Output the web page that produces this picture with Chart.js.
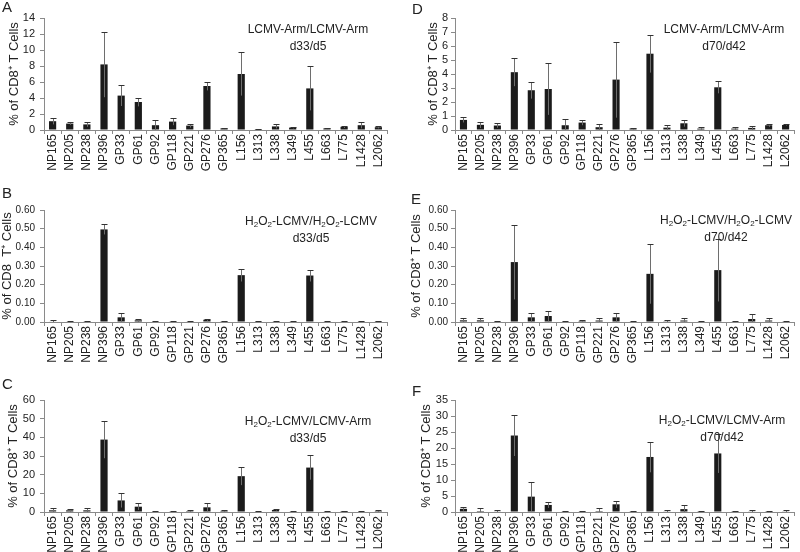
<!DOCTYPE html>
<html>
<head>
<meta charset="utf-8">
<script src="https://cdn.jsdelivr.net/npm/chart.js@4.4.0/dist/chart.umd.min.js"></script>
<style>
body{margin:0;width:800px;height:552px;overflow:hidden;background:#fff;position:relative;font-family:"Liberation Sans",Arial,sans-serif;color:#222}
.box{position:absolute;width:400px;height:172px}
.lab{position:absolute;font-size:15px;line-height:15px}
.note{position:absolute;width:220px;margin-left:-110px;text-align:center;font-size:12px;line-height:17px}
sub{font-size:8px;vertical-align:-2px;line-height:0}
</style>
</head>
<body>
<div class="box" style="left:0;top:0"><canvas id="cA"></canvas></div>
<div class="box" style="left:400px;top:0"><canvas id="cD"></canvas></div>
<div class="box" style="left:0;top:192px"><canvas id="cB"></canvas></div>
<div class="box" style="left:400px;top:192px"><canvas id="cE"></canvas></div>
<div class="box" style="left:0;top:382px"><canvas id="cC"></canvas></div>
<div class="box" style="left:400px;top:382px"><canvas id="cF"></canvas></div>

<div class="lab" style="left:2px;top:-1px">A</div>
<div class="lab" style="left:412px;top:1px">D</div>
<div class="lab" style="left:2px;top:185px">B</div>
<div class="lab" style="left:411px;top:191px">E</div>
<div class="lab" style="left:2px;top:376px">C</div>
<div class="lab" style="left:412px;top:383px">F</div>

<div class="note" style="left:308px;top:21px">LCMV-Arm/LCMV-Arm<br>d33/d5</div>
<div class="note" style="left:724px;top:21px">LCMV-Arm/LCMV-Arm<br>d70/d42</div>
<div class="note" style="left:311px;top:213px">H<sub>2</sub>O<sub>2</sub>-LCMV/H<sub>2</sub>O<sub>2</sub>-LCMV<br>d33/d5</div>
<div class="note" style="left:726px;top:212px">H<sub>2</sub>O<sub>2</sub>-LCMV/H<sub>2</sub>O<sub>2</sub>-LCMV<br>d70/d42</div>
<div class="note" style="left:308px;top:413px">H<sub>2</sub>O<sub>2</sub>-LCMV/LCMV-Arm<br>d33/d5</div>
<div class="note" style="left:722px;top:412px">H<sub>2</sub>O<sub>2</sub>-LCMV/LCMV-Arm<br>d70/d42</div>

<script>
var peptides = ["NP165","NP205","NP238","NP396","GP33","GP61","GP92","GP118","GP221","GP276",
                "GP365","L156","L313","L338","L349","L455","L663","L775","L1428","L2062"];

// A: LCMV-Arm/LCMV-Arm d33/d5
var valsA = [1.1,0.8,0.7,8.2,4.3,3.5,0.6,1.05,0.55,5.5,0.2,7.0,0.1,0.45,0.3,5.2,0.2,0.4,0.6,0.35];
var errA  = [0.4,0.15,0.3,4.1,1.3,0.55,0.7,0.45,0.25,0.55,0.1,2.7,0.05,0.25,0.1,2.75,0.1,0.15,0.4,0.15];
// D: LCMV-Arm/LCMV-Arm d70/d42
var valsD = [0.72,0.37,0.32,4.13,2.84,2.93,0.34,0.53,0.2,3.6,0.1,5.45,0.17,0.48,0.1,3.05,0.1,0.15,0.34,0.36];
var errD  = [0.18,0.23,0.16,1.0,0.6,1.85,0.43,0.19,0.2,2.72,0.07,1.35,0.16,0.24,0.1,0.43,0.1,0.15,0.11,0.04];
// B: H2O2-LCMV/H2O2-LCMV d33/d5
var valsB = [0.003,0.003,0.002,0.496,0.025,0.009,0.003,0.002,0.003,0.012,0.004,0.251,0.002,0.003,0.003,0.249,0.003,0.002,0.002,0.004];
var errB  = [0.006,0.003,0.001,0.027,0.023,0.009,0.003,0.001,0.003,0.006,0.002,0.034,0.001,0.003,0.003,0.032,0.003,0.001,0.001,0.003];
// E: H2O2-LCMV/H2O2-LCMV d70/d42
var valsE = [0.009,0.009,0.002,0.321,0.025,0.032,0.003,0.006,0.008,0.025,0.003,0.258,0.004,0.008,0.003,0.278,0.003,0.016,0.008,0.002];
var errE  = [0.014,0.014,0.001,0.2,0.023,0.029,0.003,0.004,0.015,0.023,0.003,0.16,0.007,0.015,0.003,0.168,0.003,0.027,0.015,0.001];
// C: H2O2-LCMV/LCMV-Arm d33/d5
var valsC = [0.9,0.9,0.9,38.8,6.2,2.85,0.3,0.2,0.5,2.5,0.6,19.2,0.3,1.1,0.3,23.8,0.3,0.5,0.3,0.5];
var errC  = [1.4,0.7,1.4,10.0,3.8,1.75,0.2,0.1,0.4,2.1,0.5,4.8,0.1,0.3,0.1,6.5,0.1,0.3,0.1,0.4];
// F: H2O2-LCMV/LCMV-Arm d70/d42
var valsF = [1.0,0.3,0.2,23.9,4.8,2.2,0.1,0.1,0.3,2.4,0.1,17.2,0.2,0.9,0.1,18.3,0.1,0.2,0.1,0.2];
var errF  = [0.6,0.9,0.3,6.4,4.5,0.9,0.1,0.1,0.8,1.1,0.1,4.8,0.3,1.3,0.1,6.1,0.1,0.3,0.1,0.3];

var yTitle = "% of CD8\u207A T Cells";
var yTitleB = "% of CD8  T\u207A Cells";

var errorBars = {
  id: "errorBars",
  afterDatasetsDraw: function(chart) {
    var ctx = chart.ctx, ys = chart.scales.y;
    var errs = chart.options.plugins.errorBars.errs;
    var vals = chart.data.datasets[0].data;
    chart.getDatasetMeta(0).data.forEach(function(bar, i) {
      var hi = Math.round(ys.getPixelForValue(vals[i] + errs[i])) + 0.5;
      var lo = ys.getPixelForValue(Math.max(vals[i] - errs[i], 0));
      var x = Math.round(bar.x) + 0.5;
      ctx.save();
      ctx.strokeStyle = "#6e6e6e";
      ctx.lineWidth = 1;
      ctx.beginPath();
      ctx.moveTo(x, lo);
      ctx.lineTo(x, hi);
      ctx.stroke();
      ctx.strokeStyle = "#333";
      ctx.beginPath();
      ctx.moveTo(x - 3, hi);
      ctx.lineTo(x + 3, hi);
      ctx.stroke();
      ctx.restore();
    });
  }
};

function panel(id, vals, errs, yMax, step, dec, padLeft, axisW, padRight, tickPad, tickSize, title) {
  new Chart(document.getElementById(id), {
    type: "bar",
    data: {
      labels: peptides,
      datasets: [{
        data: vals,
        backgroundColor: "#1b1b1b",
        barPercentage: 0.42,
        categoryPercentage: 1.0
      }]
    },
    plugins: [errorBars],
    options: {
      responsive: true,
      maintainAspectRatio: false,
      animation: false,
      layout: { padding: { left: padLeft, right: padRight, top: 18, bottom: 0 } },
      plugins: {
        legend: { display: false },
        tooltip: { enabled: false },
        errorBars: { errs: errs }
      },
      scales: {
        x: {
          afterFit: function(s) { s.height = 42; },
          grid: { offset: true, drawOnChartArea: false, tickLength: 4, color: "#8a8a8a" },
          border: { color: "#8a8a8a" },
          ticks: { autoSkip: false, minRotation: 90, maxRotation: 90, padding: 0,
                   color: "#222", font: { family: "Liberation Sans", size: 12 } }
        },
        y: {
          min: 0, max: yMax,
          afterFit: function(s) { s.width = axisW; },
          grid: { drawOnChartArea: false, tickLength: 4, color: "#8a8a8a" },
          border: { color: "#8a8a8a" },
          ticks: { stepSize: step, autoSkip: false, padding: tickPad, color: "#222",
                   font: { family: "Liberation Sans", size: tickSize },
                   callback: function(v) { return v.toFixed(dec); } },
          title: { display: true, text: title, color: "#222", padding: 0,
                   font: { family: "Liberation Sans", size: 13 } }
        }
      }
    }
  });
}

panel("cA", valsA, errA, 14, 2, 0, 6.5, 37.5, 13, 5, 11, yTitle);
panel("cD", valsD, errD, 8, 1, 0, 26, 29, 0, 3, 11, yTitle);
panel("cB", valsB, errB, 0.6, 0.1, 2, 0, 44, 13, 5, 10, yTitleB);
panel("cE", valsE, errE, 0.6, 0.1, 2, 9, 46, 0, 3, 10, yTitle);
panel("cC", valsC, errC, 60, 10, 0, 6, 38, 13, 5, 11, yTitle);
panel("cF", valsF, errF, 35, 5, 0, 19, 36, 0, 3, 11, yTitle);
</script>
</body>
</html>
